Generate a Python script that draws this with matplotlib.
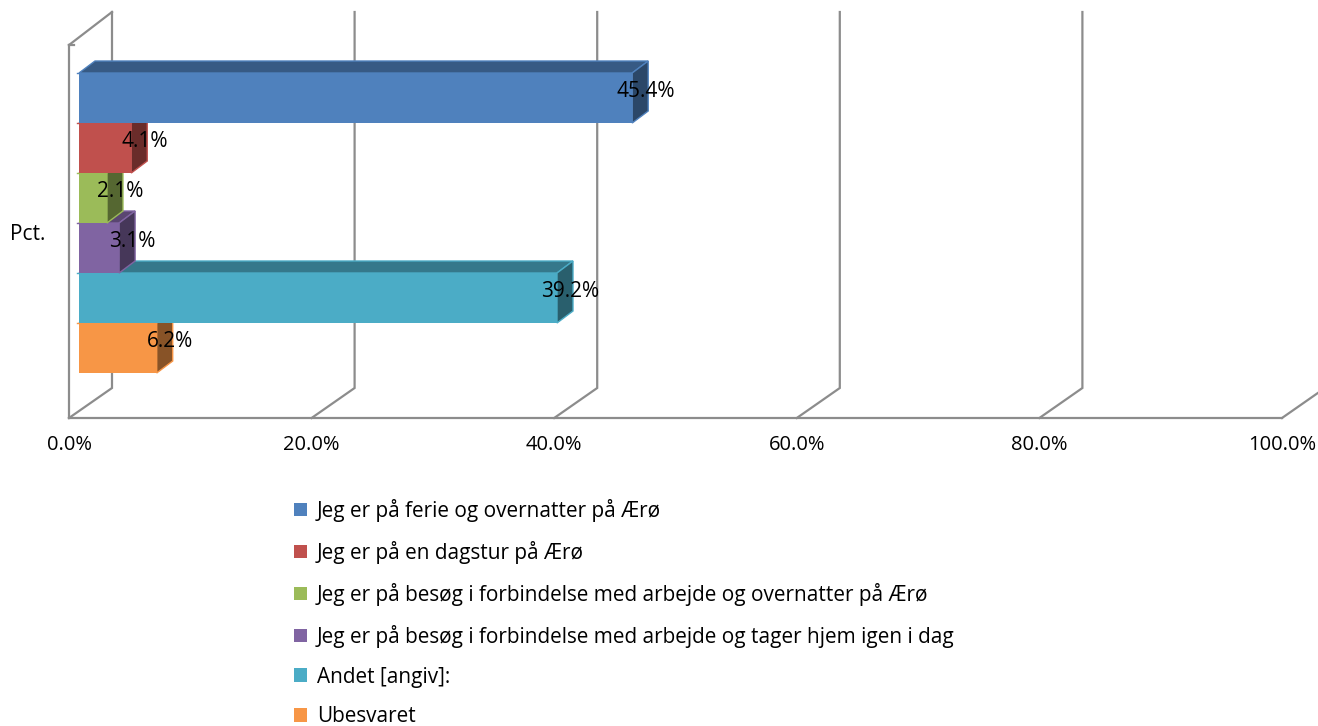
import matplotlib
matplotlib.use('Agg')
import matplotlib.pyplot as plt
from matplotlib.patches import Polygon, Patch
import numpy as np

plt.rcParams['font.family'] = ['Open Sans', 'DejaVu Sans']

labels = ['Jeg er på ferie og overnatter på Ærø',
          'Jeg er på en dagstur på Ærø',
          'Jeg er på besøg i forbindelse med arbejde og overnatter på Ærø',
          'Jeg er på besøg i forbindelse med arbejde og tager hjem igen i dag',
          'Andet [angiv]:',
          'Ubesvaret']
values = [45.4, 4.1, 2.1, 3.1, 39.2, 6.2]
colors = ['#4F81BD', '#C0504D', '#9BBB59', '#8064A2', '#4BACC6', '#F79646']
ticks = [0, 20, 40, 60, 80, 100]
tick_labels = ['0.0%', '20.0%', '40.0%', '60.0%', '80.0%', '100.0%']

W, H = 1318, 726
fig = plt.figure(figsize=(W / 100, H / 100), dpi=100)
ax = fig.add_axes([69 / W, (H - 418) / H, (1282 - 69) / W, (418 - 12) / H])
ax.set_xlim(0, 100)
ax.set_ylim(6.9, -1.22)

grid = '#8C8C8C'
ppx = 100 / 1213   # percent per pixel
ppy = 1 / 50       # bar heights per pixel

# walls: depth of the chart box
wx, wy = 43 * ppx, 30 * ppy
y_floor, y_top = 6.9, -1.22
for t in ticks:
    line_x = [t, t + wx]
    line_y = [y_floor, y_floor - wy]
    if t < 100:
        line_x.append(t + wx)
        line_y.append(y_top)
    ax.plot(line_x, line_y, color=grid, lw=1.6, clip_on=False, zorder=1,
            solid_joinstyle='miter')
# left wall top
y_wall = y_top + 33 * ppy
ax.plot([0, wx], [y_wall, y_top], color=grid, lw=1.6, clip_on=False, zorder=1)
ax.plot([0, 5 * ppx], [y_wall, y_wall], color=grid, lw=1.6, clip_on=False, zorder=1)

# bars, bottom one first so that upper ones overlap
x0 = 10 * ppx
base = 12.5 * ppx
dx, dy = 16 * ppx, 12 * ppy


def shade(c, f):
    r = matplotlib.colors.to_rgb(c)
    return tuple(v * f for v in r)


for i in range(len(values) - 1, -1, -1):
    c = colors[i]
    end = values[i] + base
    z = 3 + (len(values) - i) * 0.1
    top = Polygon([(x0, i), (x0 + dx, i - dy), (end + dx, i - dy), (end, i)],
                  closed=True, fc=shade(c, 0.7), ec=c, lw=1, clip_on=False, zorder=z)
    side = Polygon([(end, i), (end + dx, i - dy), (end + dx, i + 1 - dy), (end, i + 1)],
                   closed=True, fc=shade(c, 0.55), ec=c, lw=1, clip_on=False, zorder=z)
    ax.add_patch(top)
    ax.add_patch(side)
    ax.barh(i + 0.5, end - x0, left=x0, height=1, color=c, clip_on=False, zorder=z + 0.01)
    ax.plot([x0 - 2 * ppx, x0], [i, i], color=c, lw=1, clip_on=False, zorder=z)

for i, v in enumerate(values):
    ax.annotate(f'{v:.1f}%', (v + base, i + 0.5), xytext=(9.5, 5),
                textcoords='offset points', ha='center', va='center',
                fontsize=15, color='black', zorder=10, annotation_clip=False)

for s in ['top', 'right']:
    ax.spines[s].set_visible(False)
ax.spines['left'].set_bounds(y_floor, y_wall)
for s in ['left', 'bottom']:
    ax.spines[s].set_color(grid)
    ax.spines[s].set_linewidth(1.6)
ax.set_xticks(ticks)
ax.set_xticklabels(tick_labels, fontsize=14.5)
ax.tick_params(axis='x', length=0, pad=12.5)
ax.set_yticks([3.18])
ax.set_yticklabels(['Pct.'], fontsize=15)
ax.tick_params(axis='y', length=0, pad=17)

handles = [Patch(fc=c, ec='none') for c in colors]
fig.legend(handles, labels, loc='upper left', bbox_to_anchor=(294 / W, (H - 499) / H),
           bbox_transform=fig.transFigure, frameon=False, fontsize=14.95,
           handlelength=0.63, handleheight=0.63, handletextpad=0.46,
           labelspacing=0.91, borderpad=0, borderaxespad=0)

fig.savefig('out.png', dpi=100)
